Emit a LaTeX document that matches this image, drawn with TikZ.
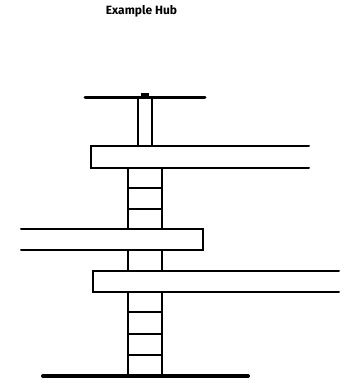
\documentclass[tikz,border=0pt]{standalone}
\usepackage{fontspec}
\setmainfont{Fira Sans}

\tikzset{
  strut/.style={line width=2pt,black},
  deck/.style={line width=2pt,black,line cap=round},
  slab/.style={line width=3pt,black,line cap=round},
}

\begin{document}
\begin{tikzpicture}[x=1pt,y=-1pt]
\useasboundingbox (0,0) rectangle (356,383);
\node[font=\bfseries\fontsize{12}{14}\selectfont] (title) at (141.5,11.5) {Example Hub};

% mast and top bar
\draw[strut] (138,97) -- (138,146);
\draw[strut] (152,97) -- (152,146);
\fill[black] (141,93) rectangle (149,97);
\draw[slab] (85,97.5) -- (205,97.5);

% ladder sections
\draw[strut] (128,168) -- (128,229);
\draw[strut] (162,168) -- (162,229);
\draw[strut] (128,250) -- (128,271);
\draw[strut] (162,250) -- (162,271);
\draw[strut] (128,292) -- (128,376);
\draw[strut] (162,292) -- (162,376);
\draw[strut] (128,188) -- (162,188);
\draw[strut] (128,209) -- (162,209);
\draw[strut] (128,312) -- (162,312);
\draw[strut] (128,334) -- (162,334);
\draw[strut] (128,355) -- (162,355);

% decks
\draw[deck] (309,146) -- (91,146) -- (91,168) -- (309,168);
\draw[deck] (21,229) -- (203,229) -- (203,250) -- (21,250);
\draw[deck] (339,271) -- (93,271) -- (93,292) -- (339,292);

\draw[slab,line width=4pt] (43,376) -- (248,376);
\end{tikzpicture}
\end{document}
